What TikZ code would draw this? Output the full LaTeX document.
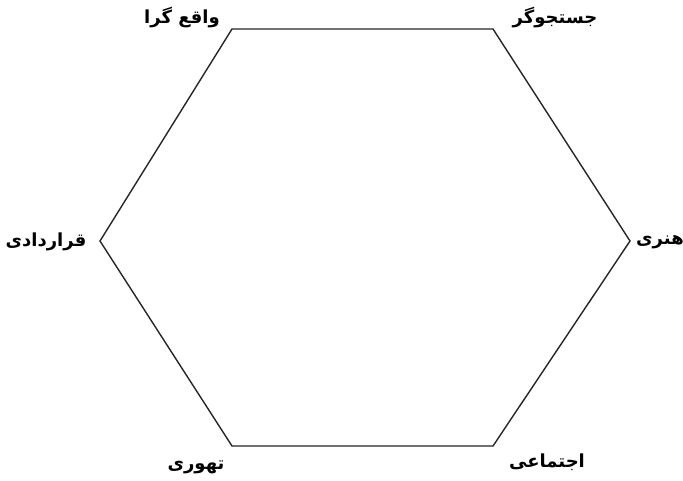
\documentclass[tikz,border=0pt]{standalone}
\usepackage{fontspec}
\newfontfamily\arabicfont[Script=Arabic]{DejaVu Sans}
\TeXXeTstate=1
\begin{document}
\begin{tikzpicture}[x=1pt,y=-1pt,
  lbl/.style={font=\arabicfont\bfseries\fontsize{18}{20}\selectfont, inner sep=0pt},
  edge/.style={line width=1.4pt, draw=black!85}]
\useasboundingbox (0,0) rectangle (683,480);
\fill[white] (0,0) rectangle (683,480);
\coordinate (tl) at (232,29);
\coordinate (tr) at (493,29);
\coordinate (r) at (630,241);
\coordinate (br) at (493,446);
\coordinate (bl) at (232,446);
\coordinate (l) at (100,241);
\draw[edge, line join=miter] (tl) -- (tr) -- (r) -- (br) -- (bl) -- (l) -- cycle;
\node[lbl] (n1) at (182,18) {\beginR واقع گرا\endR};
\node[lbl] (n2) at (555,18) {\beginR جستجوگر\endR};
\node[lbl] (n3) at (46,242) {\beginR قراردادی\endR};
\node[lbl, anchor=west] (n4) at (636,242) {\beginR هنری\endR};
\node[lbl] (n5) at (196,467) {\beginR تهوری\endR};
\node[lbl] (n6) at (547,462) {\beginR اجتماعی\endR};
\end{tikzpicture}
\end{document}
